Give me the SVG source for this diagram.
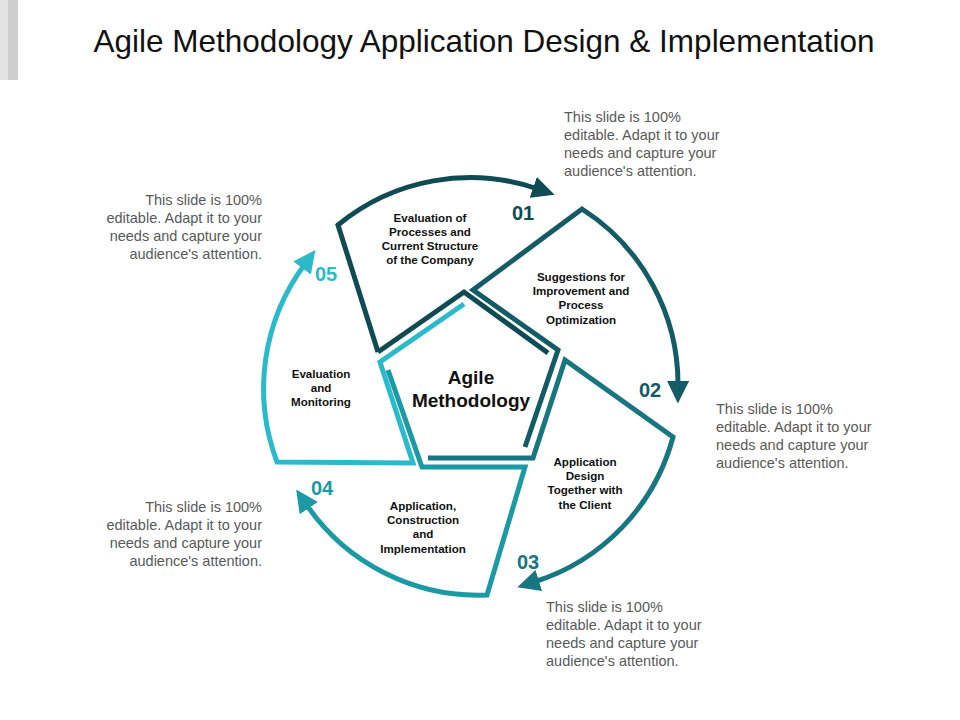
<svg xmlns="http://www.w3.org/2000/svg" width="960" height="720" viewBox="0 0 960 720">
<style>
.t{font-family:"Liberation Sans",Arial,sans-serif}
.g{font-size:14.5px;fill:#595959}
.s{font-size:11.6px;font-weight:bold;fill:#111;text-anchor:middle}
.n{font-size:20px;font-weight:bold;text-anchor:middle}
.l{fill:none;stroke-width:5;stroke-linejoin:miter}
</style>
<defs>
<marker id="m1" markerWidth="4.5" markerHeight="4.4" refX="1" refY="2.2" orient="auto" markerUnits="strokeWidth"><path d="M0,0L4.5,2.2L0,4.4z" fill="#0e4b53"/></marker>
<marker id="m2" markerWidth="4.5" markerHeight="4.4" refX="1" refY="2.2" orient="auto" markerUnits="strokeWidth"><path d="M0,0L4.5,2.2L0,4.4z" fill="#135c65"/></marker>
<marker id="m3" markerWidth="4.5" markerHeight="4.4" refX="1" refY="2.2" orient="auto" markerUnits="strokeWidth"><path d="M0,0L4.5,2.2L0,4.4z" fill="#177680"/></marker>
<marker id="m4" markerWidth="4.5" markerHeight="4.4" refX="1" refY="2.2" orient="auto" markerUnits="strokeWidth"><path d="M0,0L4.5,2.2L0,4.4z" fill="#1b99a5"/></marker>
<marker id="m5" markerWidth="4.5" markerHeight="4.4" refX="1" refY="2.2" orient="auto" markerUnits="strokeWidth"><path d="M0,0L4.5,2.2L0,4.4z" fill="#2bbacb"/></marker>
</defs>
<rect width="960" height="720" fill="#fff"/>
<rect x="0" y="0" width="18" height="80" fill="#e3e3e3"/>
<rect x="8" y="0" width="10" height="80" fill="#cfcfcf"/>
<text class="t" x="484" y="52" font-size="31.5" fill="#111" text-anchor="middle">Agile Methodology Application Design &amp; Implementation</text>
<g id="connectors">
<path class="l" stroke="#0e4b53" d="M378,352L338,225A208,208 0 0 1 538,189" marker-end="url(#m1)"/>
<path class="l" stroke="#0e4b53" d="M378,352L464,292L548,353"/>
<path class="l" stroke="#135c65" d="M525,447L558,350L473,290L582,209A208,208 0 0 1 678,386" marker-end="url(#m2)"/>
<path class="l" stroke="#177680" d="M428,458L533,458L565,360L673,437A208,208 0 0 1 534,582" marker-end="url(#m3)"/>
<path class="l" stroke="#1b99a5" d="M388,370L422,467L525,467L487,595A208,208 0 0 1 306,504" marker-end="url(#m4)"/>
<path class="l" stroke="#2bbacb" d="M464,304L380,362L413,463L277,462A208,208 0 0 1 305,264" marker-end="url(#m5)"/>
</g>
<g id="n1" class="t"><text class="s" x="430" y="222">Evaluation  of</text><text class="s" x="430" y="236">Processes and</text><text class="s" x="430" y="250">Current Structure</text><text class="s" x="430" y="264">of the Company</text><text class="n" x="523" y="220" fill="#0e4b53">01</text></g>
<g id="n2" class="t"><text class="s" x="581" y="281">Suggestions for</text><text class="s" x="581" y="295">Improvement and</text><text class="s" x="581" y="309">Process</text><text class="s" x="581" y="324">Optimization</text><text class="n" x="650" y="397" fill="#135c65">02</text></g>
<g id="n3" class="t"><text class="s" x="585" y="466">Application</text><text class="s" x="585" y="480">Design</text><text class="s" x="585" y="494">Together with</text><text class="s" x="585" y="509">the Client</text><text class="n" x="528" y="569" fill="#177680">03</text></g>
<g id="n4" class="t"><text class="s" x="423" y="510">Application,</text><text class="s" x="423" y="524">Construction</text><text class="s" x="423" y="538">and</text><text class="s" x="423" y="553">Implementation</text><text class="n" x="322" y="495" fill="#1b99a5">04</text></g>
<g id="n5" class="t"><text class="s" x="321" y="378">Evaluation</text><text class="s" x="321" y="392">and</text><text class="s" x="321" y="406">Monitoring</text><text class="n" x="326" y="281" fill="#2bbacb">05</text></g>
<g id="center" class="t"><text x="471" y="384" font-size="19" font-weight="bold" text-anchor="middle" fill="#111">Agile</text><text x="471" y="407" font-size="19" font-weight="bold" text-anchor="middle" fill="#111">Methodology</text></g>
<g class="t g">
<text x="564" y="122">This slide is 100%</text><text x="564" y="140">editable. Adapt it to your</text><text x="564" y="158">needs and capture your</text><text x="564" y="176">audience's attention.</text>
<text x="716" y="414">This slide is 100%</text><text x="716" y="432">editable. Adapt it to your</text><text x="716" y="450">needs and capture your</text><text x="716" y="468">audience's attention.</text>
<text x="546" y="612">This slide is 100%</text><text x="546" y="630">editable. Adapt it to your</text><text x="546" y="648">needs and capture your</text><text x="546" y="666">audience's attention.</text>
<g text-anchor="end">
<text x="262" y="205">This slide is 100%</text><text x="262" y="223">editable. Adapt it to your</text><text x="262" y="241">needs and capture your</text><text x="262" y="259">audience's attention.</text>
<text x="262" y="512">This slide is 100%</text><text x="262" y="530">editable. Adapt it to your</text><text x="262" y="548">needs and capture your</text><text x="262" y="566">audience's attention.</text>
</g>
</g>
</svg>
